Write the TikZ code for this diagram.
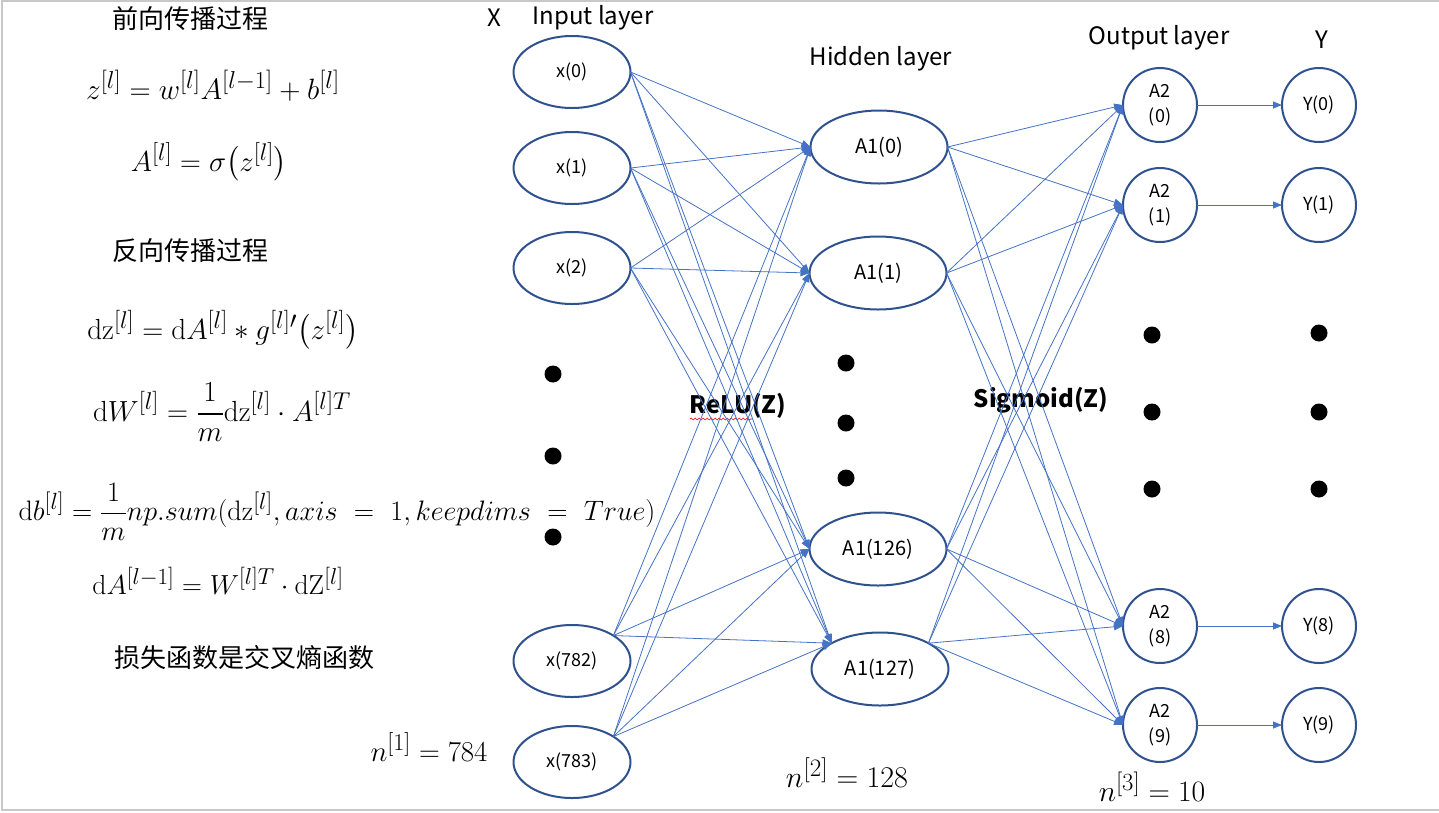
\documentclass[tikz,border=0pt]{standalone}
\usepackage{amsmath}
\usepackage{graphicx}
\usepackage{fontspec}
\newfontfamily\cjk{Noto Sans CJK SC}
\usetikzlibrary{shapes.geometric,arrows.meta,decorations.pathmorphing}
\definecolor{nodeblue}{RGB}{47,82,143}
\definecolor{edgeblue}{RGB}{68,114,196}
\definecolor{framegray}{RGB}{200,200,200}
\newcommand\mathsc[2]{\scalebox{#1}{#2}}
\begin{document}
\begin{tikzpicture}[x=1pt,y=-1pt,
  inp/.style={ellipse, draw=nodeblue, line width=2pt, minimum width=117pt, minimum height=72pt, inner sep=0pt, outer sep=0pt, font=\cjk\fontsize{18}{20}\selectfont},
  hid/.style={ellipse, draw=nodeblue, line width=2pt, minimum width=137pt, minimum height=73pt, inner sep=0pt, outer sep=0pt, font=\cjk\fontsize{20}{22}\selectfont},
  circ/.style={circle, draw=nodeblue, line width=2pt, minimum size=74pt, inner sep=0pt, outer sep=0pt, align=center, font=\cjk\fontsize{18}{25}\selectfont},
  edge/.style={draw=edgeblue, line width=0.8pt, -{Triangle[length=9pt,width=7pt]}},
  bigdot/.style={circle, fill=black, minimum size=17pt, inner sep=0pt},
  lab/.style={inner sep=0pt, font=\cjk\fontsize{24}{26}\selectfont},
  zh/.style={inner sep=0pt, font=\cjk\fontsize{26}{28}\selectfont},
  fn/.style={inner sep=0pt, font=\cjk\bfseries\fontsize{24}{26}\selectfont},
  mth/.style={inner sep=0pt, font=\fontsize{24.88}{26}\selectfont}]
\useasboundingbox (0,0) rectangle (1439,812);
\draw[framegray, line width=1.5pt] (1439,1) -- (2,1) -- (2,810) -- (1439,810);

% left texts
\node[zh] (t1) at (190,19) {前向传播过程};
\node[mth] (f1) at (213,86) {\mathsc{1.18}{$z^{[l]}=w^{[l]}A^{[l-1]}+b^{[l]}$}};
\node[mth] (f2) at (209,162) {\mathsc{1.16}{$A^{[l]}=\sigma\bigl(z^{[l]}\bigr)$}};
\node[zh] (t2) at (190,251) {反向传播过程};
\node[mth] (f3) at (223,330) {\mathsc{1.17}{$\mathrm{dz}^{[l]}=\mathrm{d}A^{[l]}*g^{[l]\prime}\bigl(z^{[l]}\bigr)$}};
\node[mth] (f4) at (222,412) {\mathsc{1.17}{$\displaystyle \mathrm{d}W^{[l]}=\frac{1}{m}\mathrm{dz}^{[l]}\cdot A^{[l]T}$}};
\node[mth] (f5) at (337,512) {\mathsc{1.13}{$\displaystyle \mathrm{d}b^{[l]}=\frac{1}{m}np.sum(\mathrm{dz}^{[l]},axis\ =\ 1,keepdims\ =\ True)$}};
\node[mth] (f6) at (218,581) {\mathsc{1.11}{$\mathrm{d}A^{[l-1]}=W^{[l]T}\cdot\mathrm{dZ}^{[l]}$}};
\node[zh] (t3) at (244,658) {损失函数是交叉熵函数};
\node[mth] (n1) at (429,747) {\mathsc{1.16}{$n^{[1]}=784$}};
\node[mth] (n2) at (847,773) {\mathsc{1.21}{$n^{[2]}=128$}};
\node[mth] (n3) at (1152,787) {\mathsc{1.19}{$n^{[3]}=10$}};

% headers
\node[lab] (hx) at (494,18) {X};
\node[lab] (hin) at (593,18) {Input layer};
\node[lab] (hhid) at (881,59) {Hidden layer};
\node[lab] (hout) at (1159,38) {Output layer};
\node[lab] (hy) at (1322,40) {Y};
\node[fn] (relu) at (738,406) {ReLU(Z)};
\node[fn] (sig) at (1041,400) {Sigmoid(Z)};
\draw[red, line width=0.6pt, decorate, decoration={snake, amplitude=1pt, segment length=4pt}] (690,419) -- (752,419);

% input nodes
\node[inp] (x0) at (572,72) {x(0)};
\node[inp] (x1) at (572,168) {x(1)};
\node[inp] (x2) at (572,268) {x(2)};
\node[inp] (x782) at (572,661) {x(782)};
\node[inp] (x783) at (572,762) {x(783)};
% hidden nodes
\node[hid] (h0) at (879,147) {A1(0)};
\node[hid] (h1) at (878,273) {A1(1)};
\node[hid] (h126) at (878,549) {A1(126)};
\node[hid] (h127) at (880,669) {A1(127)};
% output nodes
\node[circ] (o0) at (1160,105) {A2\\(0)};
\node[circ] (o1) at (1160,205) {A2\\(1)};
\node[circ] (o8) at (1160,626) {A2\\(8)};
\node[circ] (o9) at (1160,725) {A2\\(9)};
% Y nodes
\node[circ] (y0) at (1319,105) {Y(0)};
\node[circ] (y1) at (1319,205) {Y(1)};
\node[circ] (y8) at (1319,626) {Y(8)};
\node[circ] (y9) at (1319,725) {Y(9)};

% dots
\node[bigdot] (d1) at (553,374) {};
\node[bigdot] (d2) at (553,456) {};
\node[bigdot] (d3) at (553,537) {};
\node[bigdot] (d4) at (846,363) {};
\node[bigdot] (d5) at (846,423) {};
\node[bigdot] (d6) at (846,478) {};
\node[bigdot] (d7) at (1152,335) {};
\node[bigdot] (d8) at (1152,412) {};
\node[bigdot] (d9) at (1152,489) {};
\node[bigdot] (d10) at (1319,333) {};
\node[bigdot] (d11) at (1319,412) {};
\node[bigdot] (d12) at (1319,489) {};

% edges input -> hidden
\foreach \s/\sa in {x0/east,x1/east,x2/east,x782/north east,x783/north east}
  \foreach \t/\ta in {h0/west,h1/west,h126/west,h127/north west}
    \draw[edge] (\s.\sa) -- (\t.\ta);
% edges hidden -> output
\foreach \s/\sa in {h0/east,h1/east,h126/east,h127/north east}
  \foreach \t in {o0,o1,o8,o9}
    \draw[edge] (\s.\sa) -- (\t.west);
% output -> Y
\foreach \s/\t in {o0/y0,o1/y1,o8/y8,o9/y9}
  \draw[edge] (\s.east) -- (\t.west);
\end{tikzpicture}
\end{document}
